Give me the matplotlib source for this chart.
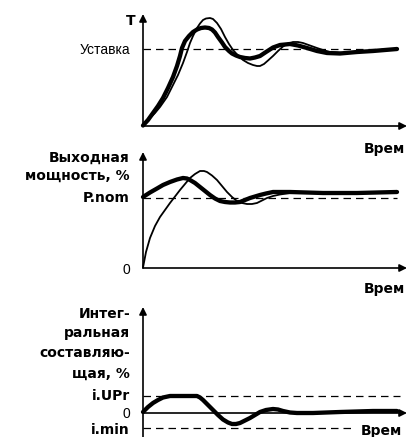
import matplotlib
matplotlib.use("Agg")
import matplotlib.pyplot as plt
import matplotlib.font_manager as fm

W, H = 407, 437

# time in arbitrary units (0..254), values in arbitrary units
t_temp_pid = [0, 5, 10, 15, 20, 25, 30, 34, 37, 39, 42, 46, 50, 54, 58, 62, 66, 69, 72, 75, 79, 82,
              86, 89, 93, 97, 102, 107, 112, 117, 123, 130, 137, 147, 155, 164, 174, 184, 197, 214,
              230, 242, 254]
temp_pid = [0.5, 6, 13, 20, 28, 38, 49, 60, 70, 78, 85, 90, 94, 96.5, 98, 98.5, 98, 96.5, 93.5, 89,
            83.5, 79, 75, 72.5, 70.5, 69, 68, 67.5, 68.5, 70, 74, 78.5, 81, 82, 80.5, 78, 75, 73,
            72.5, 74, 75, 76, 77]

t_temp_std = [0, 7, 12, 17, 24, 30, 35, 40, 44, 47, 50, 54, 57, 60, 63, 67, 70, 74, 78, 82, 86, 90,
              95, 100, 105, 110, 114, 117, 121, 125, 130, 135, 140, 145, 150, 155, 160, 167, 174,
              180, 187, 202, 217, 235, 254]
temp_std = [0.5, 8, 13, 19, 29, 41, 51, 63, 74, 83, 90, 98, 102.5, 106, 107.5, 108, 107, 103, 97, 89,
            82, 76, 70.5, 66, 63, 61, 60, 60, 62, 65.5, 70, 75, 79.5, 82.5, 84, 84, 83, 80.5, 78,
            76, 74, 73, 74, 76, 77]

t_pow_pid = [0, 7, 14, 20, 27, 34, 40, 44, 47, 52, 57, 62, 67, 72, 77, 82, 87, 92, 97, 102, 107, 112,
             117, 123, 130, 147, 180, 214, 254]
pow_pid = [71, 75.5, 79.5, 83, 86, 88.5, 90, 89.5, 88, 85, 81, 77, 73, 69.5, 67, 66, 65.5, 65.5, 66,
           68, 70, 71.5, 73, 74.5, 76, 76, 75, 75, 76]

t_pow_std = [0, 3, 7, 12, 17, 22, 27, 32, 37, 42, 47, 52, 57, 61, 64, 69, 74, 79, 84, 89, 94, 99,
             104, 109, 114, 119, 124, 130, 137, 147, 164, 197, 254]
pow_std = [0.5, 16, 30, 42, 51, 58, 65, 71.5, 78, 84, 90, 94, 97, 97, 96, 92.5, 88, 82, 76, 71, 67,
           65, 64, 64, 65, 67.5, 70, 72, 73.5, 75, 76, 75, 76]

t_integ = [0, 5, 10, 15, 20, 27, 54, 57, 60, 65, 70, 75, 80, 85, 89, 93, 97, 102, 107, 112, 117,
           123, 130, 135, 140, 147, 154, 170, 197, 230, 254]
integ = [1, 6, 10, 13, 15.5, 17, 17, 15.5, 13, 8, 3, -2, -6.5, -9.5, -11, -11, -10, -7.5, -5, -2, 1,
         3, 4, 3.5, 2, 0.5, 0, 0, 1, 2, 2]

setpoint = 77
p_nom = 70
i_upr = 17
i_min = -15

names = {f.name for f in fm.fontManager.ttflist}
BOLD_FAM = ["DejaVu Sans"]
if "Liberation Sans Narrow" in names:
    REG_FAM, REG_FS = ["Liberation Sans Narrow", "DejaVu Sans"], 11
else:
    REG_FAM, REG_FS = ["Liberation Sans", "DejaVu Sans"], 10
plt.rcParams["font.family"] = ["DejaVu Sans"]


def px_axes(fig, left, top, right, bottom):
    ax = fig.add_axes([left / W, 1 - bottom / H, (right - left) / W, (bottom - top) / H])
    ax.set_axis_off()
    return ax


def arrow(ax, x0, y0, x1, y1):
    ax.annotate("", xy=(x1, y1), xytext=(x0, y0),
                arrowprops=dict(arrowstyle="-|>", color="black", lw=1.2,
                                mutation_scale=11, shrinkA=0, shrinkB=0),
                annotation_clip=False)


def label(x, y, s, bold=True, ha="right"):
    # y is the baseline in pixels from the top
    if bold:
        fig.text(x / W, 1 - y / H, s, ha=ha, va="baseline", fontsize=10,
                 family=BOLD_FAM, fontweight="bold", color="black")
    else:
        fig.text(x / W, 1 - y / H, s, ha=ha, va="baseline", fontsize=REG_FS,
                 family=REG_FAM, color="black")


fig = plt.figure(figsize=(W / 100, H / 100), dpi=100)
xmax = 264
thick = dict(color="black", lw=3.1, solid_capstyle="round", solid_joinstyle="round", clip_on=False)
thin = dict(color="black", lw=1.3, solid_capstyle="round", solid_joinstyle="round", clip_on=False)
dash = dict(color="black", lw=0.9, linestyle=(0, (6, 4)), clip_on=False)

# temperature
ax1 = px_axes(fig, 143, 14, 407, 126)
ax1.set_xlim(0, xmax)
ax1.set_ylim(0, 112)
ax1.plot([0, 254], [setpoint, setpoint], **dash)
ax1.plot(t_temp_std, temp_std, **thin)
ax1.plot(t_temp_pid, temp_pid, **thick)
arrow(ax1, 0, 0, 0, 112)
arrow(ax1, 0, 0, xmax, 0)

# output power
ax2 = px_axes(fig, 143, 152, 407, 268)
ax2.set_xlim(0, xmax)
ax2.set_ylim(0, 116)
ax2.plot([0, 254], [p_nom, p_nom], **dash)
ax2.plot(t_pow_std, pow_std, **thin)
ax2.plot(t_pow_pid, pow_pid, **thick)
arrow(ax2, 0, 0, 0, 116)
arrow(ax2, 0, 0, xmax, 0)

# integral part
ax3 = px_axes(fig, 143, 307, 407, 437)
ax3.set_xlim(0, xmax)
ax3.set_ylim(-24, 106)
ax3.plot([0, 257], [i_upr, i_upr], **dash)
ax3.plot([0, 212], [i_min, i_min], **dash)
ax3.plot(t_integ, integ, **thick)
arrow(ax3, 0, -24, 0, 106)
arrow(ax3, 0, 0, xmax, 0)

label(135, 25, "T")
label(130, 54.5, "Уставка", bold=False)
label(130, 161.5, "Выходная")
label(130, 180, "мощность, %")
label(130, 201.5, "P.nom")
label(130, 273.5, "0", bold=False)
label(130, 318.5, "Интег-")
label(130, 337.5, "ральная")
label(130, 357, "составляю-")
label(130, 377.5, "щая, %")
label(130, 400, "i.UPr")
label(130, 418, "0", bold=False)
label(130, 434, "i.min")
label(364, 152.5, "Врем", ha="left")
label(364, 293.5, "Врем", ha="left")
label(361, 435, "Врем", ha="left")

fig.savefig("out.png", dpi=100)
